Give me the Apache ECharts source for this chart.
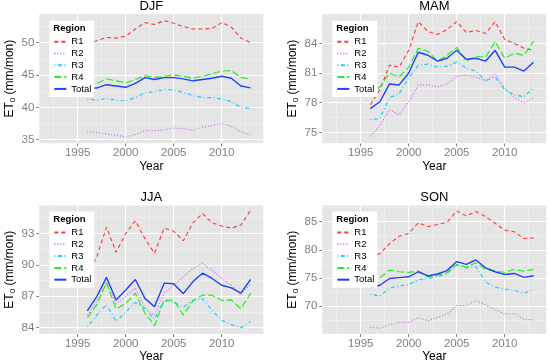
<!DOCTYPE html>
<html><head><meta charset="utf-8">
<script src="https://cdn.jsdelivr.net/npm/echarts@6/dist/echarts.min.js"></script>
<style>html,body{margin:0;padding:0;background:#fff}#c{width:550px;height:364px}</style>
</head><body><div id="c"></div>
<script>
const years = [1996,1997,1998,1999,2000,2001,2002,2003,2004,2005,2006,2007,2008,2009,2010,2011,2012,2013];
const regions = ['R1','R2','R3','R4','Total'];
const seasons = ['DJF','MAM','JJA','SON'];

const djfR1 = [49.7,50.3,50.8,50.7,51.0,52.1,53.1,52.8,53.4,53.0,52.5,52.1,52.1,52.2,53.1,52.4,50.7,50.0];
const djfR2 = [36.2,36.1,35.9,35.7,35.4,35.8,36.4,36.4,36.5,36.8,36.7,36.5,36.9,37.2,37.5,37.1,36.2,35.7];
const djfR3 = [41.3,41.1,41.4,41.1,41.0,41.5,42.3,42.4,42.7,42.7,42.3,41.8,41.5,41.5,41.3,40.9,40.0,39.8];
const djfR4 = [43.6,43.7,44.4,44.1,43.8,44.3,44.9,44.6,44.8,45.0,44.8,44.5,44.8,45.2,45.6,45.7,44.6,44.4];
const djfTotal = [43.0,43.0,43.5,43.3,43.1,43.7,44.6,44.3,44.6,44.6,44.4,44.1,44.3,44.5,44.8,44.5,43.3,43.0];

const mamR1 = [77.8,79.3,81.8,81.6,83.3,86.2,85.2,84.9,85.4,86.2,85.1,85.3,85.0,86.2,84.4,84.0,83.5,83.3];
const mamR2 = [74.6,75.7,77.3,76.8,78.1,79.8,79.8,79.6,79.9,80.7,80.8,80.6,80.2,80.9,79.5,78.5,78.0,78.5];
const mamR3 = [76.3,76.4,78.5,78.9,80.5,81.8,81.9,81.6,81.7,82.1,81.5,81.2,80.2,80.6,79.3,78.8,78.6,79.5];
const mamR4 = [78.8,79.6,81.0,80.6,81.6,83.5,83.2,82.2,82.8,83.6,82.2,82.7,82.6,84.2,82.5,83.0,82.8,84.2];
const mamTotal = [77.4,78.1,79.9,79.8,81.0,83.1,82.8,82.2,82.5,83.3,82.4,82.5,82.2,83.3,81.6,81.6,81.2,82.1];

const jjaR1 = [89.0,90.8,93.6,91.2,93.0,94.2,92.5,91.1,93.5,93.2,92.3,94.0,94.9,94.0,93.7,93.5,93.8,95.2];
const jjaR2 = [85.2,86.5,88.3,86.3,87.0,87.8,85.9,85.2,87.3,88.05,88.85,89.65,90.1,89.5,88.7,88.05,87.1,88.2];
const jjaR3 = [84.1,85.2,86.2,84.6,85.5,86.4,85.85,84.8,86.6,86.45,85.97,86.6,86.8,85.65,84.7,84.3,84.0,84.6];
const jjaR4 = [84.95,86.2,88.3,85.8,86.3,87.3,85.4,84.2,86.65,86.6,85.2,86.6,87.1,87.1,86.6,86.65,85.8,87.3];
const jjaTotal = [85.6,87.0,88.8,86.65,87.6,88.6,86.8,86.0,88.25,88.2,87.25,88.4,89.2,88.7,88.05,87.8,87.3,88.6];

const sonR1 = [78.8,79.3,81.1,82.4,82.9,84.8,84.1,84.5,84.9,86.9,86.0,86.8,85.9,84.7,83.5,83.2,82.0,82.1];
const sonR2 = [66.25,66.1,66.7,67.1,67.1,67.9,67.4,68.0,68.6,70.1,70.1,71.0,70.2,69.4,68.6,68.7,67.6,67.6];
const sonR3 = [72.1,71.8,73.2,73.6,73.8,74.7,74.9,75.2,75.8,77.3,76.8,77.0,74.3,73.4,73.0,72.8,72.3,72.9];
const sonR4 = [74.5,75.0,76.4,76.1,76.0,76.2,75.2,75.5,75.9,77.4,76.9,77.7,76.5,76.2,76.0,76.5,76.2,76.5];
const sonTotal = [73.3,73.7,74.9,75.05,75.2,76.1,75.35,75.7,76.3,77.9,77.4,78.2,76.8,76.1,75.6,75.8,75.1,75.4];

// axis ticks (major) and minor grid breaks
const xTicks = [1995,2000,2005,2010];
const xMinor = [1992.5,1997.5,2002.5,2007.5,2012.5];
const djfTicks = [35,40,45,50];
const mamTicks = [75,78,81,84];
const jjaTicks = [84,87,90,93];
const sonTicks = [70,75,80,85];
const djfMinor = [37.5,42.5,47.5,52.5];
const mamMinor = [76.5,79.5,82.5,85.5];
const jjaMinor = [85.5,88.5,91.5,94.5];
const sonMinor = [67.5,72.5,77.5,82.5,87.5];

const seasonData = [
  [djfR1,djfR2,djfR3,djfR4,djfTotal],
  [mamR1,mamR2,mamR3,mamR4,mamTotal],
  [jjaR1,jjaR2,jjaR3,jjaR4,jjaTotal],
  [sonR1,sonR2,sonR3,sonR4,sonTotal]
];
const yTicksAll = [djfTicks, mamTicks, jjaTicks, sonTicks];
const yMinorAll = [djfMinor, mamMinor, jjaMinor, sonMinor];
const yRanges = [[34.44,54.43],[73.9,86.97],[83.4,95.66],[65.05,87.86]];
const xRange = [1991.0, 2014.33];

const colors = ['#FF3838','#CC66EE','#22CCFF','#22EE22','#2040FF'];
const dashes = [[4,3],[1,2],[1,2.5,4,2.5],[7,3],'solid'];
const widths = [1.1,1.2,1.2,1.2,1.4];

const FONT = 'Liberation Sans, Arial, Helvetica, sans-serif';
const panels = [
  {left: 39.3, top: 14, width: 224, height: 129.3},
  {left: 322.3, top: 14, width: 224, height: 129.3},
  {left: 39.3, top: 205.5, width: 224, height: 128.5},
  {left: 322.3, top: 205.5, width: 224, height: 128.5}
];

const grid = panels.map(p => ({left: p.left, top: p.top, width: p.width, height: p.height,
  show: true, backgroundColor: '#E5E5E5', borderWidth: 0, containLabel: false}));

const xAxis = panels.map((p, i) => ({
  type: 'value', gridIndex: i, min: xRange[0], max: xRange[1], splitNumber: 5,
  name: 'Year', nameLocation: 'middle', nameGap: 17,
  nameTextStyle: {color: '#000', fontSize: 12, fontFamily: FONT},
  axisLine: {show: false},
  axisTick: {show: true, length: 3, lineStyle: {color: '#7F7F7F', width: 1}, customValues: xTicks},
  axisLabel: {color: '#7F7F7F', fontSize: 11.5, fontFamily: FONT, margin: 4, customValues: xTicks,
    formatter: v => String(v)},
  splitLine: {show: false}
}));

const yAxis = panels.map((p, i) => ({
  type: 'value', gridIndex: i, min: yRanges[i][0], max: yRanges[i][1], splitNumber: 4,
  name: 'ET{s|0} (mm/mon)', nameLocation: 'middle', nameGap: 23, nameRotate: 90,
  nameTextStyle: {color: '#000', fontSize: 12, fontFamily: FONT,
    rich: {s: {fontSize: 8, fontFamily: FONT, color: '#000', verticalAlign: 'bottom', padding: [5,0,0,0]}}},
  axisLine: {show: false},
  axisTick: {show: true, length: 3, lineStyle: {color: '#7F7F7F', width: 1}, customValues: yTicksAll[i]},
  axisLabel: {color: '#7F7F7F', fontSize: 11.5, fontFamily: FONT, margin: 5, customValues: yTicksAll[i]},
  splitLine: {show: false}
}));

const series = [];
seasonData.forEach((arrs, i) => {
  series.push({type: 'line', name: '_minor' + i, xAxisIndex: i, yAxisIndex: i, data: [], silent: true,
    markLine: {silent: true, symbol: ['none','none'], z: 1, label: {show: false}, animation: false,
      lineStyle: {color: '#F2F2F2', width: 0.6, type: 'solid'},
      emphasis: {disabled: true},
      data: xMinor.map(v => ({xAxis: v})).concat(yMinorAll[i].map(v => ({yAxis: v})))}});
  series.push({type: 'line', name: '_major' + i, xAxisIndex: i, yAxisIndex: i, data: [], silent: true,
    markLine: {silent: true, symbol: ['none','none'], z: 1.2, label: {show: false}, animation: false,
      lineStyle: {color: '#FFFFFF', width: 1.1, type: 'solid'},
      emphasis: {disabled: true},
      data: xTicks.map(v => ({xAxis: v})).concat(yTicksAll[i].map(v => ({yAxis: v})))}});
  arrs.forEach((vals, k) => {
    series.push({
      type: 'line', name: regions[k], xAxisIndex: i, yAxisIndex: i,
      data: years.map((y, j) => [y, vals[j]]),
      symbol: 'none', showSymbol: false, smooth: false, z: 2 + k * 0.01,
      lineStyle: {color: colors[k], width: widths[k], type: dashes[k]},
      itemStyle: {color: colors[k]},
      emphasis: {disabled: true}
    });
  });
});

const legend = panels.map((p, i) => ({
  data: regions, orient: 'vertical',
  left: p.left + 10, top: p.top + (i < 2 ? 6.7 : 6),
  itemWidth: 12, itemHeight: 8, itemGap: 1.8,
  padding: [16, 3, 3, 4], backgroundColor: '#FFFFFF',
  itemStyle: {opacity: 0, color: 'rgba(0,0,0,0)', borderWidth: 0},
  textStyle: {color: '#000', fontSize: 9.5, fontFamily: FONT},
  selectedMode: false, z: 4
}));

const graphic = [];
panels.forEach((p, i) => {
  graphic.push({type: 'text', x: p.left + p.width / 2, y: p.top - 8, z: 100,
    style: {text: seasons[i], fill: '#000', font: '13px ' + FONT, align: 'center', verticalAlign: 'middle'}});
  graphic.push({type: 'text', x: p.left + 14, y: p.top + (i < 2 ? 14.5 : 14), z: 100,
    style: {text: 'Region', fill: '#000', font: 'bold 9.5px ' + FONT, align: 'left', verticalAlign: 'middle'}});
});

const chart = echarts.init(document.getElementById('c'), null, {renderer: 'canvas'});
chart.setOption({
  animation: false,
  backgroundColor: '#FFFFFF',
  grid, xAxis, yAxis, series, legend, graphic,
  tooltip: {show: false}
});
</script>
</body></html>
